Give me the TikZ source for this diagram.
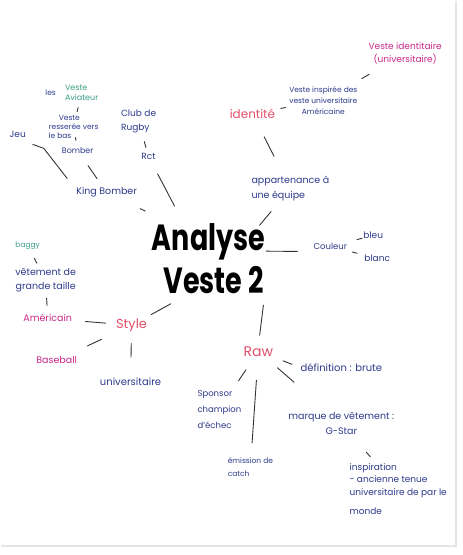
\documentclass[tikz,border=0pt]{standalone}
\usepackage{fontspec}
\setmainfont{Poppins}
\newfontfamily\titlefont{Poppins}
\usetikzlibrary{calc}
\definecolor{inkblue}{HTML}{2E3B8C}
\definecolor{redink}{HTML}{E4506A}
\definecolor{hotpink}{HTML}{C8288A}
\definecolor{mint}{HTML}{3AA088}
\definecolor{pen}{HTML}{333333}

\begin{document}
\begin{tikzpicture}[
    x=1pt, y=-1pt,
    every node/.style={inner sep=1pt},
    ink/.style={text=inkblue, font=\fontsize{7.5}{11}\selectfont, align=left},
    pinkink/.style={text=hotpink, font=\fontsize{9.5}{13}\selectfont, align=center},
    greenink/.style={text=mint, font=\fontsize{8}{10}\selectfont, align=left},
    topic/.style={text=redink, font=\fontsize{#1}{#1}\selectfont},
    title/.style={text=black, font=\titlefont\bfseries\fontsize{27}{30}\selectfont},
    stroke/.style={draw=pen, line width=0.9pt, line cap=round},
  ]

  % Page
  \fill[white] (0,0) rectangle (462,555);
  \draw[gray!20, line width=1.5pt] (456,0) -- (456,546) -- (0,546);
  \useasboundingbox (0,0) rectangle (462,555);

  % Centre
  \node[title] (ana) at (208,241) {\scalebox{1}[1.35]{Analyse}};
  \node[title] (veste) at (213,280) {\scalebox{1}[1.35]{Veste 2}};

  % Upper left
  \node[greenink] (aviat) at (81,92) {Veste\\Aviateur};
  \node[ink] (les) at (50,92) {les};
  \node[ink, font=\fontsize{7.5}{9}\selectfont] (resser) at (73,126) {\hspace*{10pt}Veste\\resserée vers\\le bas};
  \node[ink, font=\fontsize{8}{11}\selectfont] (bomber) at (77,150) {Bomber};
  \node[ink, font=\fontsize{9}{11}\selectfont] (jeu) at (17,134) {Jeu};
  \node[ink, font=\fontsize{9.5}{11}\selectfont] (kingb) at (106,192) {King Bomber};
  \node[ink, font=\fontsize{9}{14}\selectfont] (rugby) at (138,121) {Club de\\Rugby};
  \node[ink, font=\fontsize{9}{11}\selectfont] (rct) at (148,156) {Rct};

  % Upper right
  \node[pinkink, font=\fontsize{9}{13}\selectfont] (vid) at (405,53) {Veste identitaire\\(universitaire)};
  \node[ink, align=center] (vinsp) at (323,100) {Veste inspirée des\\veste universitaire\\Américaine};
  \node[topic=12] (ident) at (252,113) {identité};
  \node[ink, font=\fontsize{9.5}{15}\selectfont] (appart) at (290,188) {appartenance à\\une équipe};

  % Right
  \node[ink, font=\fontsize{8.5}{11}\selectfont] (coul) at (330,246) {Couleur};
  \node[ink, font=\fontsize{9}{11}\selectfont] (bleu) at (373,235) {bleu};
  \node[ink, font=\fontsize{9}{11}\selectfont] (blanc) at (377,258) {blanc};

  % Left
  \node[greenink, font=\fontsize{7.5}{10}\selectfont] (baggy) at (27,245) {baggy};
  \node[ink, align=center, font=\fontsize{9.5}{14}\selectfont] (grande) at (45,280) {vêtement de\\grande taille};
  \node[pinkink] (amer) at (47,318) {Américain};
  \node[topic=13] (style) at (131,325) {Style};
  \node[pinkink] (baseball) at (56,360) {Baseball};
  \node[ink, font=\fontsize{10}{11}\selectfont] (univ) at (130,382) {universitaire};

  % Bottom
  \node[topic=14] (raw) at (258,351) {Raw};
  \node[ink, font=\fontsize{10}{11}\selectfont] (defn) at (341,367) {définition : brute};
  \node[ink, font=\fontsize{8.5}{16}\selectfont] (sponsor) at (219,409) {Sponsor\\champion\\d'échec};
  \node[ink, font=\fontsize{7.5}{13}\selectfont] (catch) at (250,467) {émission de\\catch};
  \node[ink, align=center, font=\fontsize{9.5}{15}\selectfont] (marque) at (341,423) {marque de vêtement :\\G-Star};
  \node[ink, font=\fontsize{9}{13}\selectfont] (inspi) at (398,489) {inspiration\\- ancienne tenue\\universitaire de par le\\[6pt]monde};

  % Strokes
  \draw[stroke] ($(aviat)!.44!(resser)$) -- ($(aviat)!.56!(resser)$);
  \draw[stroke] ($(resser)!.46!(bomber)$) -- ($(resser)!.58!(bomber)$);
  \draw[stroke] ($(bomber)!.36!(kingb)$) -- ($(bomber)!.67!(kingb)$);
  \draw[stroke] ($(jeu)!.17!(kingb)$) -- ++(11,4) -- ($(kingb.north west)+(-8,-8)$);
  \draw[stroke] ($(rugby)!.57!(rct)$) -- ($(rugby)!.74!(rct)$);
  \draw[stroke] ($(rct)!.14!(veste)$) -- ($(rct)!.40!(veste)$);
  \draw[stroke] ($(kingb)!.33!(ana)$) -- ($(kingb)!.38!(ana)$);
  \draw[stroke] ($(vid)!.44!(vinsp)$) -- ($(vid)!.53!(vinsp)$);
  \draw[stroke] ($(vinsp)!.53!(ident)$) -- ($(vinsp)!.6!(ident)$);
  \draw[stroke] ($(ident)!.31!(appart)$) -- ($(ident)!.57!(appart)$);
  \draw[stroke] ($(appart)!.25!(veste)$) -- ($(appart)!.40!(veste)$);
  \draw[stroke] ($(ana.east)!.5!(ana.south east)$) -- ($(coul.west)+(-15,5)$);
  \draw[stroke] ($(coul)!.62!(bleu)$) -- ($(coul)!.74!(bleu)$);
  \draw[stroke] ($(coul)!.47!(blanc)$) -- ($(coul)!.57!(blanc)$);
  \draw[stroke] ($(baggy)!.37!(grande)$) -- ($(baggy)!.51!(grande)$);
  \draw[stroke] ($(grande)!.47!(amer)$) -- ($(grande)!.66!(amer)$);
  \draw[stroke] ($(amer)!.45!(style)$) -- ($(amer)!.69!(style)$);
  \draw[stroke] ($(style)!.24!(veste)$) -- ($(style)!.48!(veste)$);
  \draw[stroke] ($(style)!.4!(baseball)$) -- ($(style)!.59!(baseball)$);
  \draw[stroke] ($(style)!.32!(univ)$) -- ($(style)!.56!(univ)$);
  \draw[stroke] ($(veste.south east)!.2!(raw.north)$) -- ($(veste.south east)!.8!(raw.north)$);
  \draw[stroke] ($(raw.south east)!.35!(defn.west)$) -- ($(raw.south east)!.7!(defn.west)$);
  \draw[stroke] ($(raw)!.32!(sponsor)$) -- ($(raw)!.51!(sponsor)$);
  \draw[stroke] ($(raw)!.25!(catch)$) -- ($(raw)!.79!(catch)$);
  \draw[stroke] ($(raw)!.23!(marque)$) -- ($(raw)!.43!(marque)$);
  \draw[stroke] ($(marque)!.44!(inspi)$) -- ($(marque)!.51!(inspi)$);

\end{tikzpicture}
\end{document}
